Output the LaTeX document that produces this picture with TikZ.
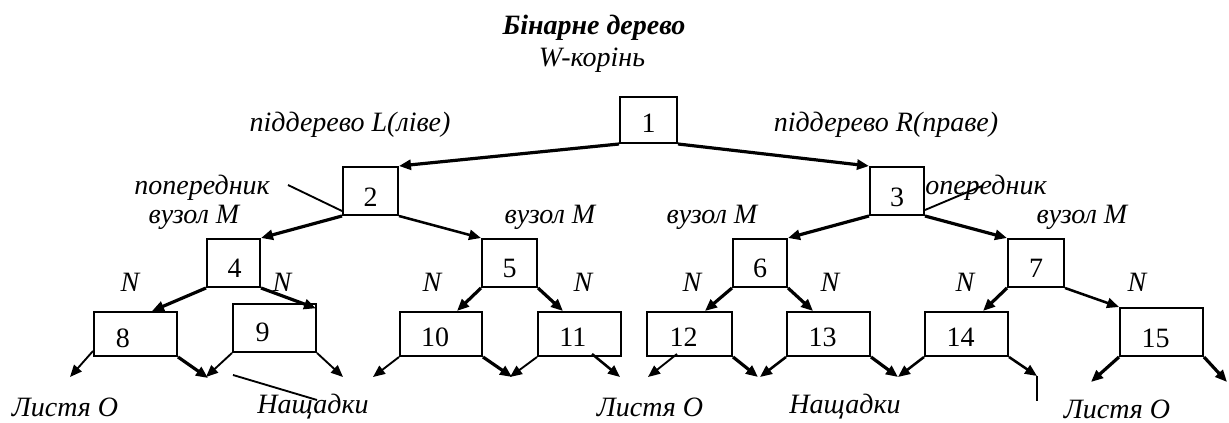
\documentclass[tikz,border=0pt]{standalone}
\usepackage{fontspec}
\setmainfont{Liberation Serif}
\usetikzlibrary{arrows.meta}
\begin{document}
\begin{tikzpicture}[x=0.75pt,y=-0.75pt,
  box/.style={draw, line width=1.5pt, fill=white, inner sep=0pt},
  num/.style={font=\fontsize{21}{24}\selectfont, inner sep=0pt},
  lbl/.style={font=\fontsize{21}{24}\selectfont\itshape, inner sep=0pt},
  ttl/.style={font=\fontsize{21}{24}\selectfont\bfseries\itshape, inner sep=0pt},
  tip/.style={-{Triangle[length=9pt,width=7.5pt]}},
  heavy/.style={tip, line width=2.4pt},
  mid/.style={tip, line width=1.9pt},
  light/.style={tip, line width=1.4pt},
  pointer/.style={line width=1.4pt}
]
\useasboundingbox (0,0) rectangle (1229,423);

% texts
\node[ttl] (title) at (594,28) {Бінарне дерево};
\node[lbl] (root) at (592,60) {W-корінь};
\node[lbl] (subL) at (350,125) {піддерево L(ліве)};
\node[lbl] (subR) at (886,125) {піддерево R(праве)};
\node[lbl, anchor=east] (predL) at (270,188) {попередник};
\node[lbl, anchor=west] (predR) at (911,188) {попередник};
\node[lbl] (m4) at (194,217) {вузол M};
\node[lbl] (m5) at (550,217) {вузол M};
\node[lbl] (m6) at (712,217) {вузол M};
\node[lbl] (m7) at (1082,217) {вузол M};
\node[lbl] (na) at (130,282) {N};
\node[lbl] (nb) at (282,282) {N};
\node[lbl] (nc) at (432,282) {N};
\node[lbl] (nd) at (583,282) {N};
\node[lbl] (ne) at (692,282) {N};
\node[lbl] (nf) at (830,282) {N};
\node[lbl] (ng) at (965,282) {N};
\node[lbl] (nh) at (1137,282) {N};
\node[lbl] (leafA) at (65,407) {Листя O};
\node[lbl] (descA) at (313,407) {Нащадки};
\node[lbl] (leafB) at (650,407) {Листя O};
\node[lbl] (descB) at (845,407) {Нащадки};
\node[lbl] (leafC) at (1117,409) {Листя O};

% boxes
\node[box, minimum width=57*0.75pt, minimum height=46*0.75pt, label={[num,yshift=-2.25pt]center:1}] (n1) at (648.5,120) {};
\node[box, minimum width=55*0.75pt, minimum height=48*0.75pt, label={[num,yshift=-5pt]center:2}] (n2) at (370.5,191) {};
\node[box, minimum width=54*0.75pt, minimum height=48*0.75pt, label={[num,yshift=-5pt]center:3}] (n3) at (897,191) {};
\node[box, minimum width=53*0.75pt, minimum height=48*0.75pt, label={[num,xshift=0.75pt,yshift=-3.75pt]center:4}] (n4) at (233.5,263) {};
\node[box, minimum width=55*0.75pt, minimum height=48*0.75pt, label={[num,yshift=-3.75pt]center:5}] (n5) at (509.5,263) {};
\node[box, minimum width=54*0.75pt, minimum height=48*0.75pt, label={[num,yshift=-3.75pt]center:6}] (n6) at (760,263) {};
\node[box, minimum width=56*0.75pt, minimum height=48*0.75pt, label={[num,yshift=-3.75pt]center:7}] (n7) at (1036,263) {};
\node[box, minimum width=83*0.75pt, minimum height=44*0.75pt, label={[num,xshift=-9.5pt,yshift=-3pt]center:8}] (n8) at (135.5,334) {};
\node[box, minimum width=83*0.75pt, minimum height=48*0.75pt, label={[num,xshift=-9pt,yshift=-3pt]center:9}] (n9) at (274.5,328) {};
\node[box, minimum width=82*0.75pt, minimum height=44*0.75pt, label={[num,xshift=-4.5pt,yshift=-2.6pt]center:10}] (n10) at (441,334) {};
\node[box, minimum width=83*0.75pt, minimum height=44*0.75pt, label={[num,xshift=-5pt,yshift=-2.6pt]center:11}] (n11) at (579.5,334) {};
\node[box, minimum width=85*0.75pt, minimum height=44*0.75pt, label={[num,xshift=-4.5pt,yshift=-2.6pt]center:12}] (n12) at (689.5,334) {};
\node[box, minimum width=83*0.75pt, minimum height=44*0.75pt, label={[num,xshift=-4.5pt,yshift=-2.6pt]center:13}] (n13) at (828.5,334) {};
\node[box, minimum width=83*0.75pt, minimum height=44*0.75pt, label={[num,xshift=-4.5pt,yshift=-2.6pt]center:14}] (n14) at (966.5,334) {};
\node[box, minimum width=83*0.75pt, minimum height=48*0.75pt, label={[num,xshift=-4.5pt,yshift=-4.5pt]center:15}] (n15) at (1161.5,332) {};

% free ends
\coordinate (pl) at (288,185);
\coordinate (pr) at (982,186);
\coordinate (da) at (233,375);
\coordinate (db) at (317,400);
\coordinate (e8l) at (70,377);
\coordinate (e8r) at (208,378);
\coordinate (e9l) at (206,377);
\coordinate (e9r) at (343,377);
\coordinate (e10l) at (373,377);
\coordinate (e10r) at (512,377);
\coordinate (e11l) at (510,377);
\coordinate (e11r) at (620,377);
\coordinate (e12l) at (648,377);
\coordinate (e12r) at (758,377);
\coordinate (e13l) at (760,377);
\coordinate (e13r) at (898,377);
\coordinate (e14l) at (898,377);
\coordinate (e14r) at (1037,376);
\coordinate (v14) at (1037,401);
\coordinate (e15l) at (1091,382);
\coordinate (e15r) at (1227,382);

% tree edges
\draw[heavy] (n1.south west) -- (n2.north east);
\draw[heavy] (n1.south east) -- (n3.north west);
\draw[heavy] (n2.south west) -- (n4.north east);
\draw[mid] (n2.south east) -- (n5.north west);
\draw[heavy] (n3.south west) -- (n6.north east);
\draw[heavy] (n3.south east) -- (n7.north west);
\draw[heavy] (n4.south west) -- ([xshift=12.4pt]n8.north);
\draw[heavy] (n4.south east) -- ([xshift=-0.75pt,yshift=-4pt]n9.north east);
\draw[heavy] (n5.south west) -- ([xshift=12pt]n10.north);
\draw[heavy] (n5.south east) -- ([xshift=-12.4pt]n11.north);
\draw[heavy] (n6.south west) -- ([xshift=11.6pt]n12.north);
\draw[heavy] (n6.south east) -- ([xshift=-11.6pt]n13.north);
\draw[heavy] (n7.south west) -- ([xshift=12.4pt]n14.north);
\draw[mid] (n7.south east) -- (n15.north west);

% pointer lines
\draw[pointer] (pl) -- ([yshift=3.75pt]n2.south west);
\draw[pointer] ([yshift=4.5pt]n3.south east) -- (pr);
\draw[pointer] (da) -- (db);

% leaf arrows
\draw[light] ([yshift=4.5pt]n8.south west) -- (e8l);
\draw[heavy] (n8.south east) -- (e8r);
\draw[light] (n9.south west) -- (e9l);
\draw[light] (n9.south east) -- (e9r);
\draw[light] (n10.south west) -- (e10l);
\draw[heavy] (n10.south east) -- (e10r);
\draw[light] (n11.south west) -- (e11l);
\draw[mid] ([xshift=9.4pt,yshift=2.25pt]n11.south) -- (e11r);
\draw[light] ([xshift=-9.4pt,yshift=2.25pt]n12.south) -- (e12l);
\draw[heavy] (n12.south east) -- (e12r);
\draw[mid] (n13.south west) -- (e13l);
\draw[heavy] (n13.south east) -- (e13r);
\draw[mid] (n14.south west) -- (e14l);
\draw[mid] (n14.south east) -- (e14r);
\draw[pointer] (e14r) -- (v14);
\draw[heavy] (n15.south west) -- (e15l);
\draw[heavy] (n15.south east) -- (e15r);
\end{tikzpicture}
\end{document}
